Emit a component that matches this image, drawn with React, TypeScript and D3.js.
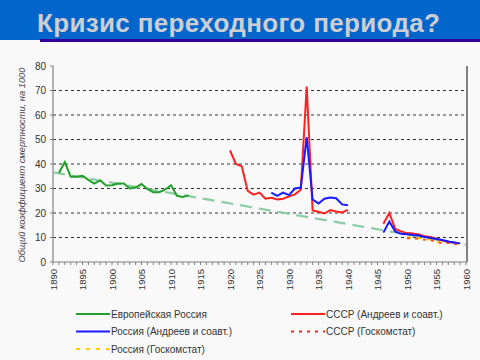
import React from "react";
import * as d3 from "d3";

const euroYears = [1891,1892,1893,1894,1895,1896,1897,1898,1899,1900,1901,1902,1903,1904,1905,1906,1907,1908,1909,1910,1911,1912,1913];
const euroValues = [36.3,40.8,34.8,34.8,35.2,33.5,32.0,33.3,31.2,31.3,32.0,32.0,30.0,30.4,31.8,29.8,28.5,28.5,29.5,31.3,27.0,26.5,27.2];

const trendYears = [1890, 1960];
const trendValues = [36.6, 7.0];

const ussrAYears1 = [1920,1921,1922,1923,1924,1925,1926,1927,1928,1929,1930,1931,1932,1933,1934,1935,1936,1937,1938,1939,1940];
const ussrAValues1 = [45.5,40.0,39.0,29.0,27.5,28.3,25.8,26.2,25.5,25.8,26.8,27.6,29.5,71.6,21.0,20.5,19.8,21.2,20.6,20.2,21.3];
const ussrAYears2 = [1946,1947,1948,1949,1950,1951,1952,1953,1954,1955,1956,1957,1958];
const ussrAValues2 = [15.6,20.0,13.5,12.5,11.8,11.6,11.2,10.5,10.2,9.5,8.8,8.2,8.0];

const rusAYears1 = [1927,1928,1929,1930,1931,1932,1933,1934,1935,1936,1937,1938,1939,1940];
const rusAValues1 = [28.3,27.0,28.3,27.3,30.0,30.4,51.0,25.5,23.9,25.8,26.3,26.0,23.5,23.2];
const rusAYears2 = [1946,1947,1948,1949,1950,1951,1952,1953,1954,1955,1956,1957,1958,1959];
const rusAValues2 = [12.0,16.5,12.5,11.5,11.3,11.0,10.8,10.2,9.8,9.4,9.0,8.4,8.0,7.6];

const ussrGYears = [1950,1951,1952,1953,1954,1955,1956,1957,1958,1959];
const ussrGValues = [9.7,9.7,9.4,9.1,8.9,8.2,7.6,7.8,7.2,7.6];
const rusGYears = [1950,1951,1952,1953,1954,1955,1956,1957,1958,1959,1960];
const rusGValues = [10.1,10.0,9.7,9.4,9.2,8.5,7.8,8.2,7.5,7.7,7.4];

const yTicks = [0,10,20,30,40,50,60,70,80];
const xLabelYears = [1890,1895,1900,1905,1910,1915,1920,1925,1930,1935,1940,1945,1950,1955,1960];

const legendItems = [
  { label: "Европейская Россия", color: "#22a02a", dash: "", col: 0, row: 0 },
  { label: "СССР (Андреев и соавт.)", color: "#ff2020", dash: "", col: 1, row: 0 },
  { label: "Россия (Андреев и соавт.)", color: "#1a1aff", dash: "", col: 0, row: 1 },
  { label: "СССР (Госкомстат)", color: "#ff2020", dash: "3,5", col: 1, row: 1 },
  { label: "Россия (Госкомстат)", color: "#ffcc00", dash: "4,6", col: 0, row: 2 },
];

const FONT = "'Liberation Sans', Arial, sans-serif";

export default function App() {
  const x = d3.scaleLinear().domain([1890, 1960]).range([53, 466]);
  const y = d3.scaleLinear().domain([0, 80]).range([262, 66]);
  const line = d3.line<[number, number]>().x(d => x(d[0])).y(d => y(d[1]));
  const mk = (ys: number[], vs: number[]) => line(ys.map((yr, i) => [yr, vs[i]] as [number, number])) || "";
  const minorYears = d3.range(1890, 1961);

  return (
    <svg width={480} height={360} style={{ position: "fixed", left: 0, top: 0, background: "#f9f9f9" }} fontFamily={FONT}>
      <rect x={0} y={0} width={480} height={360} fill="#f9f9f9" />
      <rect x={0} y={0} width={480} height={40} fill="#0066cc" />
      <rect x={40} y={39} width={440} height={3} fill="#330099" />
      <text x={37} y={32} fontSize={26} fontWeight="bold" fill="#cdcdd2" fontFamily={FONT} textLength={403} lengthAdjust="spacing">Кризис переходного периода?</text>

      {/* gridlines */}
      {yTicks.filter(t => t > 0 && t < 80).map(t => (
        <line key={t} x1={53} x2={466} y1={y(t)} y2={y(t)} stroke="#333" strokeWidth={1} strokeDasharray="3,3" />
      ))}
      {/* axes */}
      <line x1={53} x2={53} y1={66} y2={262} stroke="#808080" strokeWidth={1.2} />
      <line x1={467} x2={467} y1={66} y2={262} stroke="#333" strokeWidth={1.2} />
      <line x1={53} x2={467} y1={262} y2={262} stroke="#808080" strokeWidth={1.2} />
      {yTicks.map(t => (
        <g key={t}>
          <line x1={50} x2={53} y1={y(t)} y2={y(t)} stroke="#808080" />
          <text x={46} y={y(t) + 3.5} fontSize={10} textAnchor="end" fill="#333">{t}</text>
        </g>
      ))}
      {minorYears.map(yr => (
        <line key={yr} x1={x(yr)} x2={x(yr)} y1={262} y2={265} stroke="#808080" />
      ))}
      {xLabelYears.map(yr => (
        <text key={yr} transform={`translate(${x(yr) + 3.5},269) rotate(-90)`} fontSize={9.5} textAnchor="end" fill="#333">{yr}</text>
      ))}
      <text transform="translate(25,165) rotate(-90)" fontSize={9.3} fontStyle="italic" textAnchor="middle" fill="#444">Общий коэффициент смертности, на 1000</text>

      {/* series */}
      <path d={mk(trendYears, trendValues)} fill="none" stroke="#8ccca4" strokeWidth={2.2} strokeDasharray="12,7" />
      <path d={mk(euroYears, euroValues)} fill="none" stroke="#22a02a" strokeWidth={2} />
      <path d={mk(rusGYears, rusGValues)} fill="none" stroke="#ffcc00" strokeWidth={2} strokeDasharray="4,6" />
      <path d={mk(ussrGYears, ussrGValues)} fill="none" stroke="#ff5020" strokeWidth={2} strokeDasharray="3,5" />
      <path d={mk(ussrAYears1, ussrAValues1)} fill="none" stroke="#ff2020" strokeWidth={2} />
      <path d={mk(ussrAYears2, ussrAValues2)} fill="none" stroke="#ff2020" strokeWidth={2} />
      <path d={mk(rusAYears1, rusAValues1)} fill="none" stroke="#1a1aff" strokeWidth={2} />
      <path d={mk(rusAYears2, rusAValues2)} fill="none" stroke="#1a1aff" strokeWidth={2} />

      {/* legend */}
      {legendItems.map(it => {
        const lx = it.col === 0 ? 76 : 291;
        const ly = 314 + it.row * 17.5;
        return (
          <g key={it.label}>
            <line x1={lx} x2={lx + 34} y1={ly} y2={ly} stroke={it.color} strokeWidth={2} strokeDasharray={it.dash || undefined} />
            <text x={lx + 35} y={ly + 3.5} fontSize={10} fill="#333">{it.label}</text>
          </g>
        );
      })}
    </svg>
  );
}
